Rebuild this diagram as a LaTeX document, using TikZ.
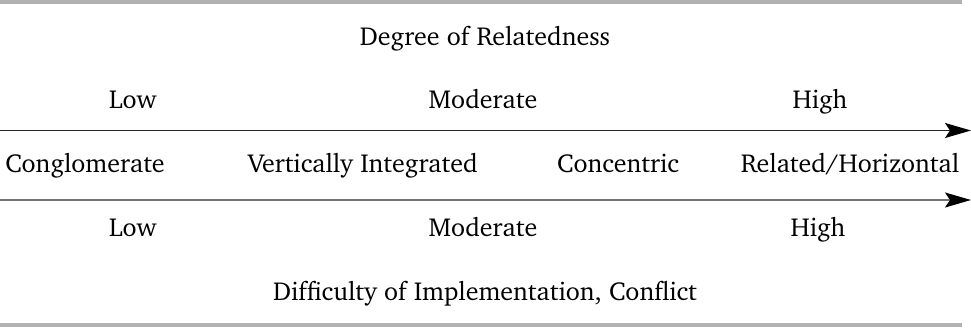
\documentclass[tikz,border=0pt]{standalone}
\usepackage[T1]{fontenc}
\usepackage{charter}
\usetikzlibrary{arrows.meta}
\tikzset{
	lbl/.style={font=\fontsize{26}{30}\selectfont, inner sep=0pt, anchor=base},
	axis/.style={-{Stealth[length=26pt, width=15pt, inset=5pt, black]}, line width=1.3pt},
	rule/.style={line width=4pt, black!30}
}
\begin{document}
\begin{tikzpicture}[x=1pt, y=-1pt]
	\useasboundingbox (0,0) rectangle (971,327);

	\draw [rule] (0,2) to (962,2);
	\draw [rule] (0,325) to (962,325);

	\node [lbl] (deg) at (485,45) {Degree of Relatedness};
	\node [lbl] (rlow) at (133,108) {Low};
	\node [lbl] (rmod) at (483,108) {Moderate};
	\node [lbl] (rhigh) at (820,108) {High};

	\coordinate (s1) at (0,130.5);
	\coordinate (e1) at (971,130.5);
	\draw [axis, black!85] (s1) -- (e1);

	\node [lbl] (cong) at (85,172.5) {Conglomerate};
	\node [lbl] (vert) at (363,172.5) {Vertically Integrated};
	\node [lbl] (conc) at (618,172.5) {Concentric};
	\node [lbl] (rel) at (850,172.5) {Related/Horizontal};

	\coordinate (s2) at (0,200);
	\coordinate (e2) at (971,200);
	\draw [axis, black!55] (s2) -- (e2);

	\node [lbl] (dlow) at (133,236.5) {Low};
	\node [lbl] (dmod) at (483,236.5) {Moderate};
	\node [lbl] (dhigh) at (818,236.5) {High};
	\node [lbl] (diff) at (485,300) {Difficulty of Implementation, Conflict};
\end{tikzpicture}
\end{document}
